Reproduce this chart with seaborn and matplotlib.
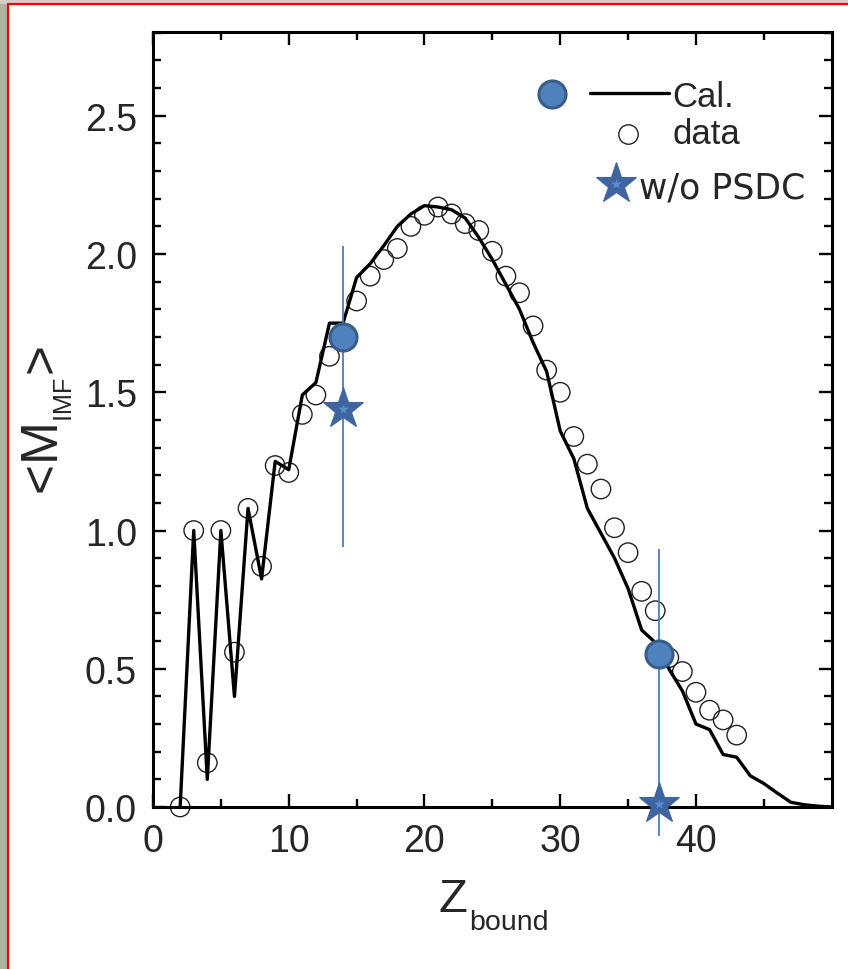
import matplotlib
matplotlib.use("Agg")
import matplotlib.pyplot as plt
import seaborn as sns
import numpy as np
import pandas as pd
from matplotlib.patches import Rectangle
from matplotlib.lines import Line2D
from matplotlib.ticker import MultipleLocator, FixedLocator

# ---------------- data ----------------
calc_z = [2, 3, 4, 5, 6, 7, 8, 9, 10, 11, 12, 13, 14, 15, 16, 17, 18, 19, 20,
          21, 22, 23, 24, 25, 26, 27, 28, 29, 30, 31, 32, 33, 34, 35, 36, 37,
          38, 39, 40, 41, 42, 43, 44, 45, 46, 47, 48, 49, 50]
calc_m = [0.0, 1.0, 0.10, 1.0, 0.40, 1.08, 0.825, 1.25, 1.22, 1.49, 1.535, 1.75,
          1.75, 1.915, 1.965, 2.03, 2.10, 2.145, 2.175, 2.17, 2.16, 2.13, 2.06,
          1.98, 1.89, 1.80, 1.68, 1.575, 1.36, 1.26, 1.08, 0.99, 0.90, 0.79,
          0.64, 0.595, 0.50, 0.42, 0.30, 0.28, 0.19, 0.18, 0.113, 0.085, 0.05,
          0.017, 0.008, 0.003, 0.0]

data_z = [2, 3, 4, 5, 6, 7, 8, 9, 10, 11, 12, 13, 14, 15, 16, 17, 18, 19, 20,
          21, 22, 23, 24, 25, 26, 27, 28, 29, 30, 31, 32, 33, 34, 35, 36, 37,
          38, 39, 40, 41, 42, 43]
data_m = [0.0, 1.0, 0.16, 1.0, 0.56, 1.08, 0.87, 1.235, 1.21, 1.42, 1.49, 1.63,
          1.71, 1.83, 1.92, 1.98, 2.02, 2.10, 2.14, 2.17, 2.145, 2.11, 2.085,
          2.01, 1.92, 1.86, 1.74, 1.58, 1.50, 1.34, 1.24, 1.15, 1.01, 0.92,
          0.78, 0.71, 0.54, 0.49, 0.415, 0.35, 0.315, 0.26]

sel_z = [14, 37.3]
sel_cal = [1.70, 0.553]
sel_wo = [1.44, 0.01]
bar_lo = [0.94, -0.105]
bar_hi = [2.03, 0.933]

x_ticks = [0, 10, 20, 30, 40]
y_ticks = [0.0, 0.5, 1.0, 1.5, 2.0, 2.5]
y_ticklabels = ["0.0", "0.5", "1.0", "1.5", "2.0", "2.5"]
legend_labels = ["Cal.", "data", "w/o PSDC"]

# ---------------- style ----------------
sns.set_style("ticks")
plt.rcParams["font.family"] = ["Liberation Sans", "DejaVu Sans"]
plt.rcParams["font.style"] = "normal"
plt.rcParams["mathtext.fontset"] = "custom"
plt.rcParams["mathtext.rm"] = "Liberation Sans"
plt.rcParams["mathtext.it"] = "Liberation Sans"
plt.rcParams["mathtext.default"] = "regular"

W, H = 848, 970
fig = plt.figure(figsize=(W / 100, H / 100), dpi=100)
fig.patch.set_facecolor("#D4D0C8")
# page background / border
fig.patches.append(Rectangle((0, 0), 8 / W, 1 - 5 / H, transform=fig.transFigure,
                             facecolor="#B3B0A4", edgecolor="none", zorder=-20))
fig.patches.append(Rectangle((8 / W, 0), 1, 1 - 5 / H, transform=fig.transFigure,
                             facecolor="white", edgecolor="none", zorder=-20))
fig.lines.append(Line2D([8 / W, 1], [1 - 5 / H, 1 - 5 / H], transform=fig.transFigure,
                        color="#FF0000", lw=1.6, zorder=-10))
fig.lines.append(Line2D([8 / W, 8 / W], [0, 1 - 5 / H], transform=fig.transFigure,
                        color="#FF0000", lw=1.6, zorder=-10))

ax_l, ax_r, ax_t, ax_b = 153, 831.7, 33, 808
ax = fig.add_axes([ax_l / W, 1 - ax_b / H, (ax_r - ax_l) / W, (ax_b - ax_t) / H])
ax.set_facecolor("white")

calc_df = pd.DataFrame({"Z": calc_z, "M": calc_m})
data_df = pd.DataFrame({"Z": data_z, "M": data_m})

sns.scatterplot(data=data_df, x="Z", y="M", ax=ax, marker="o", s=14 ** 2,
                facecolors="none", edgecolor="#222222", linewidth=1.0,
                zorder=2, clip_on=False)
sns.lineplot(data=calc_df, x="Z", y="M", ax=ax, color="black", lw=2.4,
             zorder=3, sort=False)

bar_color = "#4A7EBB"
ax.vlines(sel_z, bar_lo, bar_hi, color=bar_color, lw=1.3, zorder=4, clip_on=False)
ax.plot(sel_z, sel_cal, ls="none", marker="o", ms=19.5, mfc="#4F81BD",
        mec="#385D8A", mew=2.2, zorder=5, clip_on=False)
ax.plot(sel_z, sel_wo, ls="none", marker="*", ms=31, mfc="#3F65A0",
        mec="#3F65A0", mew=0.8, zorder=6, clip_on=False)
ax.plot(sel_z, sel_wo, ls="none", marker="*", ms=7, mfc="#5B8BD0",
        mec="none", zorder=7, clip_on=False)

ax.set_xlim(0, 50)
ax.set_ylim(0, 2.803)
ax.xaxis.set_major_locator(FixedLocator(x_ticks))
ax.xaxis.set_minor_locator(FixedLocator([5, 15, 25, 35, 45]))
ax.set_xticklabels([str(t) for t in x_ticks])
ax.yaxis.set_major_locator(FixedLocator(y_ticks))
ax.set_yticklabels(y_ticklabels)
ax.yaxis.set_minor_locator(MultipleLocator(0.1))

for sp in ax.spines.values():
    sp.set_visible(True)
    sp.set_linewidth(2.2)
    sp.set_color("black")
ax.tick_params(which="both", direction="in", top=True, right=True,
               color="black", width=1.7)
ax.tick_params(which="major", length=9.6, labelsize=27, pad=11.5)
ax.tick_params(which="minor", length=6)

ax.set_xlabel("")
ax.set_ylabel("<M$_{{}_{IMF}}$>", fontsize=37, labelpad=7)

# x label built from main letter + subscript (pixel positions of the reference)
fig.text(438 / W, 1 - 912 / H, r"$\mathrm{Z}$", fontsize=34,
         ha="left", va="baseline")
fig.text(469 / W, 1 - 930 / H, "bound", fontsize=20.5,
         ha="left", va="baseline")

# ---------------- legend (manual, axes fraction) ----------------
tA = ax.transAxes
ax.plot([0.5875], [0.9200], transform=tA, marker="o", ms=19.5, mfc="#4F81BD",
        mec="#385D8A", mew=2.2, ls="none", clip_on=False, zorder=8)
ax.plot([0.644, 0.760], [0.9213, 0.9213], transform=tA, color="black", lw=2.4,
        clip_on=False, zorder=8)
ax.text(0.765, 0.904, legend_labels[0], transform=tA, fontsize=25,
        ha="left", va="baseline", zorder=8)
ax.plot([0.7003], [0.8684], transform=tA, marker="o", ms=14, mfc="none",
        mec="#222222", mew=1.0, ls="none", clip_on=False, zorder=8)
ax.text(0.765, 0.8565, legend_labels[1], transform=tA, fontsize=25,
        ha="left", va="baseline", zorder=8)
ax.plot([0.6822], [0.8039], transform=tA, marker="*", ms=31, mfc="#3F65A0",
        mec="#3F65A0", mew=0.8, ls="none", clip_on=False, zorder=8)
ax.plot([0.6822], [0.8039], transform=tA, marker="*", ms=7, mfc="#5B8BD0",
        mec="none", ls="none", clip_on=False, zorder=9)
ax.text(0.716, 0.787, legend_labels[2], transform=tA, fontsize=25,
        family=["DejaVu Sans"], ha="left", va="baseline", zorder=8)

fig.savefig("out.png", dpi=100, facecolor=fig.get_facecolor())
